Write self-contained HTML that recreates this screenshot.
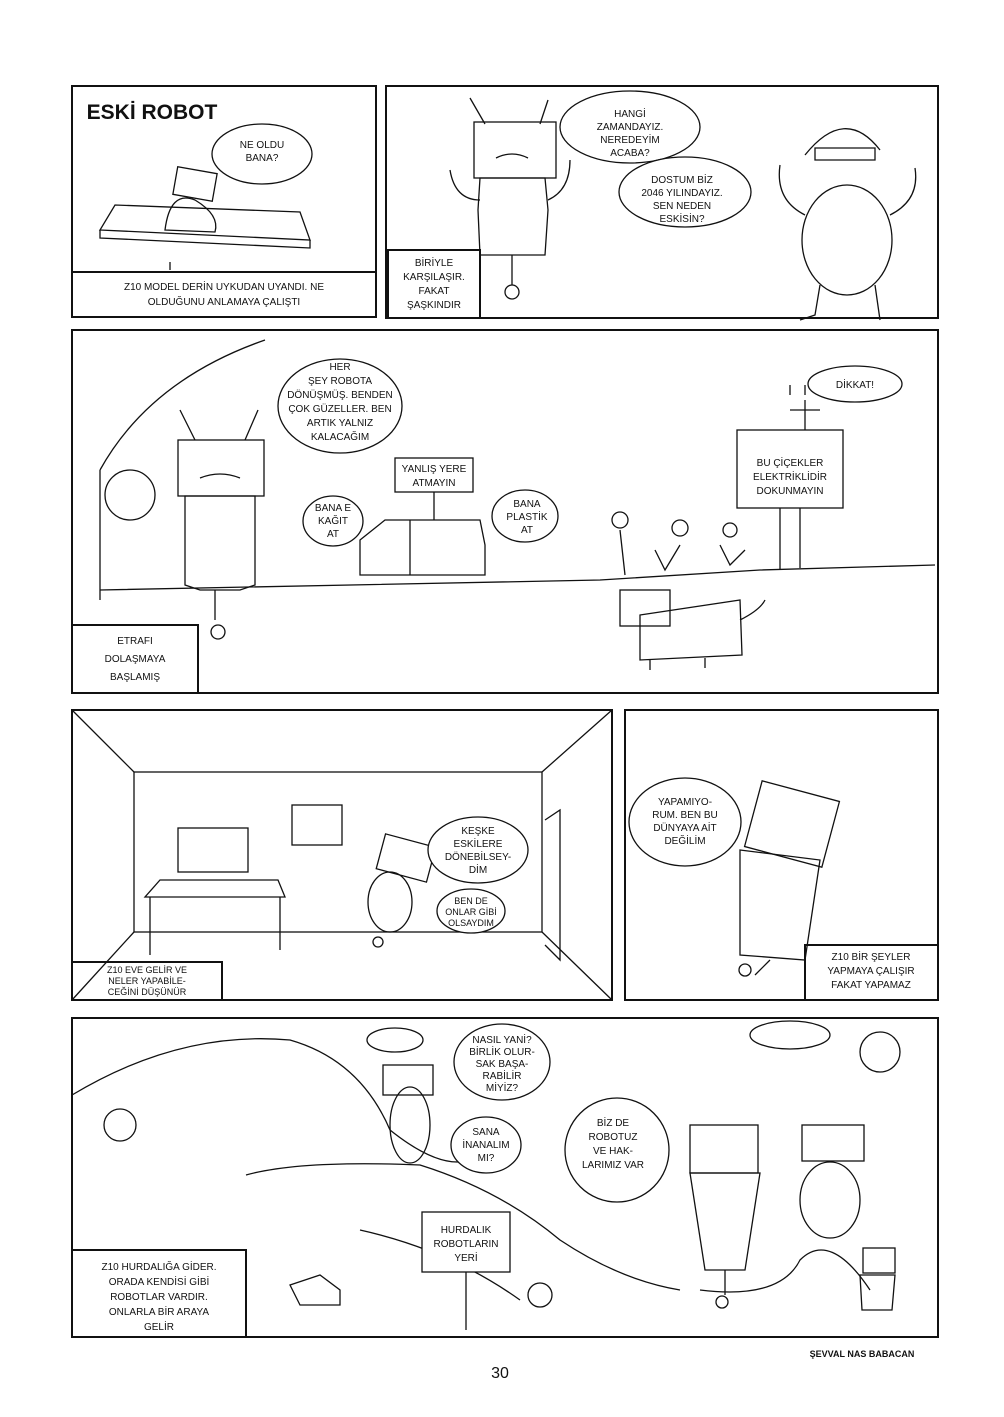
<!DOCTYPE html>
<html><head><meta charset="utf-8"><style>
html,body{margin:0;padding:0;background:#fff}
svg{display:block}
text{font-family:"Liberation Sans",sans-serif;font-size:10px;fill:#111;text-anchor:middle}
.b{fill:#fff;stroke:#111;stroke-width:1.3}
.l{fill:none;stroke:#111;stroke-width:1.3}
.p{fill:none;stroke:#111;stroke-width:2}
</style></head><body>
<svg width="1004" height="1417" viewBox="0 0 1004 1417">
<!-- Panel 1 -->
<rect class="p" x="72" y="86" width="304" height="231"/>
<rect class="p" x="72" y="272" width="304" height="45"/>
<text x="152" y="119" style="font-size:21px;font-weight:900;text-anchor:middle">ESKİ ROBOT</text>
<ellipse class="b" cx="262" cy="154" rx="50" ry="30"/>
<text x="262" y="148">NE OLDU</text><text x="262" y="161">BANA?</text>
<polygon class="l" points="100,230 310,240 300,212 115,205"/>
<path class="l" d="M100,230 L100,238 L310,248 L310,240 M170,262 L170,270"/>
<rect class="l" x="175" y="170" width="40" height="28" transform="rotate(10 195 184)"/>
<path class="l" d="M165,230 Q170,190 195,200 Q220,215 215,232 Z"/>
<text x="224" y="290">Z10 MODEL DERİN UYKUDAN UYANDI. NE</text>
<text x="224" y="305">OLDUĞUNU ANLAMAYA ÇALIŞTI</text>
<!-- Panel 2 -->
<rect class="p" x="386" y="86" width="552" height="232"/>
<rect class="p" x="388" y="250" width="92" height="68"/>
<text x="434" y="266">BİRİYLE</text><text x="434" y="280">KARŞILAŞIR.</text><text x="434" y="294">FAKAT</text><text x="434" y="308">ŞAŞKINDIR</text>
<rect class="l" x="474" y="122" width="82" height="56"/>
<path class="l" d="M485,124 L470,98 M540,124 L548,100 M496,158 Q512,150 528,158"/>
<path class="l" d="M480,178 L545,178 L548,210 L545,255 L480,255 L478,210 Z"/>
<path class="l" d="M480,200 Q455,200 450,170 M548,200 Q570,190 570,160"/>
<path class="l" d="M512,255 L512,285"/><circle class="l" cx="512" cy="292" r="7"/>
<ellipse class="b" cx="630" cy="127" rx="70" ry="36"/>
<text x="630" y="117">HANGİ</text><text x="630" y="130">ZAMANDAYIZ.</text><text x="630" y="143">NEREDEYİM</text><text x="630" y="156">ACABA?</text>
<ellipse class="b" cx="685" cy="192" rx="66" ry="35"/>
<text x="682" y="183">DOSTUM BİZ</text><text x="682" y="196">2046 YILINDAYIZ.</text><text x="682" y="209">SEN NEDEN</text><text x="682" y="222">ESKİSİN?</text>
<path class="l" d="M805,155 Q845,105 880,150 M815,148 L875,148 L875,160 L815,160 Z"/>
<ellipse class="l" cx="847" cy="240" rx="45" ry="55"/>
<path class="l" d="M805,215 Q775,200 780,165 M890,215 Q920,200 915,168 M820,285 L815,315 L800,320 M875,285 L880,320"/>
<!-- Panel 3 -->
<rect class="p" x="72" y="330" width="866" height="363"/>
<rect class="p" x="72" y="625" width="126" height="68"/>
<text x="135" y="644">ETRAFI</text><text x="135" y="662">DOLAŞMAYA</text><text x="135" y="680">BAŞLAMIŞ</text>
<path class="l" d="M100,470 Q150,380 265,340 M100,600 L100,470"/>
<path class="l" d="M100,590 L600,580 L760,570 L935,565"/>
<rect class="l" x="178" y="440" width="86" height="56"/>
<path class="l" d="M195,440 L180,410 M245,440 L258,410 M200,478 Q220,470 240,478"/>
<path class="l" d="M185,496 L255,496 L255,585 L240,590 L200,590 L185,585 Z"/>
<path class="l" d="M215,590 L215,620"/><circle class="l" cx="218" cy="632" r="7"/>
<ellipse class="l" cx="130" cy="495" rx="25" ry="25"/>
<ellipse class="b" cx="340" cy="406" rx="62" ry="47"/>
<text x="340" y="370">HER</text><text x="340" y="384">ŞEY ROBOTA</text><text x="340" y="398">DÖNÜŞMÜŞ. BENDEN</text><text x="340" y="412">ÇOK GÜZELLER. BEN</text><text x="340" y="426">ARTIK YALNIZ</text><text x="340" y="440">KALACAĞIM</text>
<rect class="b" x="395" y="458" width="78" height="34"/>
<text x="434" y="472">YANLIŞ YERE</text><text x="434" y="486">ATMAYIN</text>
<path class="l" d="M434,492 L434,520 M360,540 L385,520 L480,520 L485,545 L485,575 L360,575 Z M410,520 L410,575"/>
<ellipse class="b" cx="333" cy="521" rx="30" ry="25"/>
<text x="333" y="511">BANA E</text><text x="333" y="524">KAĞIT</text><text x="333" y="537">AT</text>
<ellipse class="b" cx="525" cy="516" rx="33" ry="26"/>
<text x="527" y="507">BANA</text><text x="527" y="520">PLASTİK</text><text x="527" y="533">AT</text>
<ellipse class="b" cx="855" cy="384" rx="47" ry="18"/>
<text x="855" y="388">DİKKAT!</text>
<path class="l" d="M790,410 L820,410 M805,400 L805,430 M790,395 L790,385 M805,395 L805,385"/>
<rect class="b" x="737" y="430" width="106" height="78"/>
<text x="790" y="466">BU ÇİÇEKLER</text><text x="790" y="480">ELEKTRİKLİDİR</text><text x="790" y="494">DOKUNMAYIN</text>
<path class="l" d="M780,508 L780,570 M800,508 L800,568"/>
<path class="l" d="M620,530 L625,575 M655,550 L665,570 L680,545 M720,545 L730,565 L745,550"/>
<circle class="l" cx="620" cy="520" r="8"/><circle class="l" cx="680" cy="528" r="8"/><circle class="l" cx="730" cy="530" r="7"/>
<rect class="l" x="620" y="590" width="50" height="36"/>
<path class="l" d="M640,615 L740,600 L742,655 L640,660 Z M650,660 L650,670 M705,658 L705,668 M740,620 Q760,610 765,600"/>
<!-- Panel 4 -->
<rect class="p" x="72" y="710" width="540" height="290"/>
<rect class="p" x="72" y="962" width="150" height="38"/>
<text x="147" y="973" style="font-size:9px">Z10 EVE GELİR VE</text><text x="147" y="984" style="font-size:9px">NELER YAPABİLE-</text><text x="147" y="995" style="font-size:9px">CEĞİNİ DÜŞÜNÜR</text>
<rect class="l" x="134" y="772" width="408" height="160"/>
<path class="l" d="M72,710 L134,772 M612,710 L542,772 M72,1000 L134,932 M612,1000 L542,932"/>
<rect class="l" x="178" y="828" width="70" height="44"/>
<path class="l" d="M145,897 L285,897 L278,880 L160,880 Z M150,897 L150,955 M280,897 L280,950"/>
<rect class="l" x="292" y="805" width="50" height="40"/>
<path class="l" d="M545,820 L560,810 L560,960 L545,945"/>
<rect class="l" x="380" y="840" width="52" height="36" transform="rotate(15 406 858)"/>
<ellipse class="l" cx="390" cy="902" rx="22" ry="30"/>
<circle class="l" cx="378" cy="942" r="5"/>
<ellipse class="b" cx="478" cy="850" rx="50" ry="33"/>
<text x="478" y="834">KEŞKE</text><text x="478" y="847">ESKİLERE</text><text x="478" y="860">DÖNEBİLSEY-</text><text x="478" y="873">DİM</text>
<ellipse class="b" cx="471" cy="911" rx="34" ry="22"/>
<text x="471" y="904" style="font-size:9px">BEN DE</text><text x="471" y="915" style="font-size:9px">ONLAR GİBİ</text><text x="471" y="926" style="font-size:9px">OLSAYDIM</text>
<!-- Panel 5 -->
<rect class="p" x="625" y="710" width="313" height="290"/>
<rect class="p" x="805" y="945" width="133" height="55"/>
<text x="871" y="960">Z10 BİR ŞEYLER</text><text x="871" y="974">YAPMAYA ÇALIŞIR</text><text x="871" y="988">FAKAT YAPAMAZ</text>
<ellipse class="b" cx="685" cy="822" rx="56" ry="44"/>
<text x="685" y="805">YAPAMIYO-</text><text x="685" y="818">RUM. BEN BU</text><text x="685" y="831">DÜNYAYA AİT</text><text x="685" y="844">DEĞİLİM</text>
<rect class="l" x="752" y="790" width="80" height="68" transform="rotate(15 792 824)"/>
<path class="l" d="M740,850 L820,860 L805,960 L740,955 Z M770,960 L755,975"/>
<circle class="l" cx="745" cy="970" r="6"/>
<!-- Panel 6 -->
<rect class="p" x="72" y="1018" width="866" height="319"/>
<rect class="p" x="72" y="1250" width="174" height="87"/>
<text x="159" y="1270">Z10 HURDALIĞA GİDER.</text><text x="159" y="1285">ORADA KENDİSİ GİBİ</text><text x="159" y="1300">ROBOTLAR VARDIR.</text><text x="159" y="1315">ONLARLA BİR ARAYA</text><text x="159" y="1330">GELİR</text>
<path class="l" d="M72,1095 Q180,1030 290,1040 Q360,1060 390,1130 Q440,1170 470,1160 L520,1150 M246,1175 Q300,1160 420,1165 Q500,1190 560,1240 Q620,1280 680,1290 M360,1230 Q450,1250 520,1300 M700,1290 Q780,1300 800,1260 Q830,1230 870,1290"/>
<ellipse class="l" cx="395" cy="1040" rx="28" ry="12"/>
<ellipse class="l" cx="790" cy="1035" rx="40" ry="14"/>
<circle class="l" cx="880" cy="1052" r="20"/>
<circle class="l" cx="120" cy="1125" r="16"/>
<rect class="l" x="383" y="1065" width="50" height="30"/>
<ellipse class="l" cx="410" cy="1125" rx="20" ry="38"/>
<ellipse class="b" cx="502" cy="1062" rx="48" ry="38"/>
<text x="502" y="1043">NASIL YANİ?</text><text x="502" y="1055">BİRLİK OLUR-</text><text x="502" y="1067">SAK BAŞA-</text><text x="502" y="1079">RABİLİR</text><text x="502" y="1091">MİYİZ?</text>
<ellipse class="b" cx="486" cy="1145" rx="35" ry="28"/>
<text x="486" y="1135">SANA</text><text x="486" y="1148">İNANALIM</text><text x="486" y="1161">MI?</text>
<ellipse class="b" cx="617" cy="1150" rx="52" ry="52"/>
<text x="613" y="1126">BİZ DE</text><text x="613" y="1140">ROBOTUZ</text><text x="613" y="1154">VE HAK-</text><text x="613" y="1168">LARIMIZ VAR</text>
<rect class="b" x="422" y="1212" width="88" height="60"/>
<text x="466" y="1233">HURDALIK</text><text x="466" y="1247">ROBOTLARIN</text><text x="466" y="1261">YERİ</text>
<path class="l" d="M466,1272 L466,1330"/>
<rect class="l" x="690" y="1125" width="68" height="48"/>
<path class="l" d="M690,1173 L760,1173 L745,1270 L705,1270 Z M725,1270 L725,1295"/>
<circle class="l" cx="722" cy="1302" r="6"/>
<rect class="l" x="802" y="1125" width="62" height="36"/>
<ellipse class="l" cx="830" cy="1200" rx="30" ry="38"/>
<rect class="l" x="863" y="1248" width="32" height="25"/>
<path class="l" d="M860,1275 L895,1275 L892,1310 L862,1310 Z"/>
<path class="l" d="M290,1285 L320,1275 L340,1290 L340,1305 L300,1305 Z"/>
<circle class="l" cx="540" cy="1295" r="12"/>
<text x="862" y="1357" style="font-size:9px;font-weight:bold">ŞEVVAL NAS BABACAN</text>
<text x="500" y="1378" style="font-size:16px">30</text>
</svg>
</body></html>
